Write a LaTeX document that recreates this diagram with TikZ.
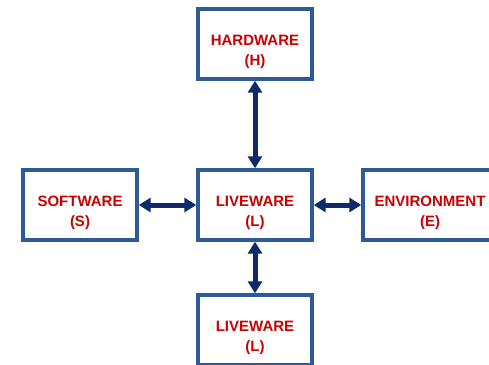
\documentclass[tikz,border=0pt]{standalone}
\usepackage{fontspec}
\setmainfont{Liberation Sans}
\usetikzlibrary{arrows.meta}
\definecolor{boxblue}{HTML}{2E5B98}
\definecolor{arrownavy}{HTML}{0E2A6A}
\definecolor{txtred}{HTML}{CC0000}
\begin{document}
\begin{tikzpicture}[x=1pt,y=-1pt,
  box/.style={draw=boxblue,line width=3.4pt,fill=white,minimum width=114pt,minimum height=70pt,inner sep=0pt},
  lbl/.style={text=txtred,font=\fontsize{15}{19.5}\selectfont\bfseries,align=center,inner sep=0pt},
  link/.style={draw=arrownavy,line width=5pt,{Triangle[length=12pt,width=14pt]}-{Triangle[length=12pt,width=14pt]}}]
\useasboundingbox (0,0) rectangle (489,364);
\clip (0,0) rectangle (489,364);
\node[box] (hw) at (255,44) {};
\node[box] (lw) at (255,205) {};
\node[box] (sw) at (80,205) {};
\node[box,minimum width=134pt] (env) at (430,205) {};
\node[box] (lw2) at (255,330) {};
\node[lbl] (hwt) at (255,52) {HARDWARE\\(H)};
\node[lbl] (lwt) at (255,213) {LIVEWARE\\(L)};
\node[lbl] (swt) at (80,213) {SOFTWARE\\(S)};
\node[lbl] (envt) at (430,213) {ENVIRONMENT\\(E)};
\node[lbl] (lw2t) at (255,338) {LIVEWARE\\(L)};
\draw[link] (hw) -- (lw);
\draw[link] (sw) -- (lw);
\draw[link] (lw) -- (env);
\draw[link] (lw) -- (lw2);
\end{tikzpicture}
\end{document}
